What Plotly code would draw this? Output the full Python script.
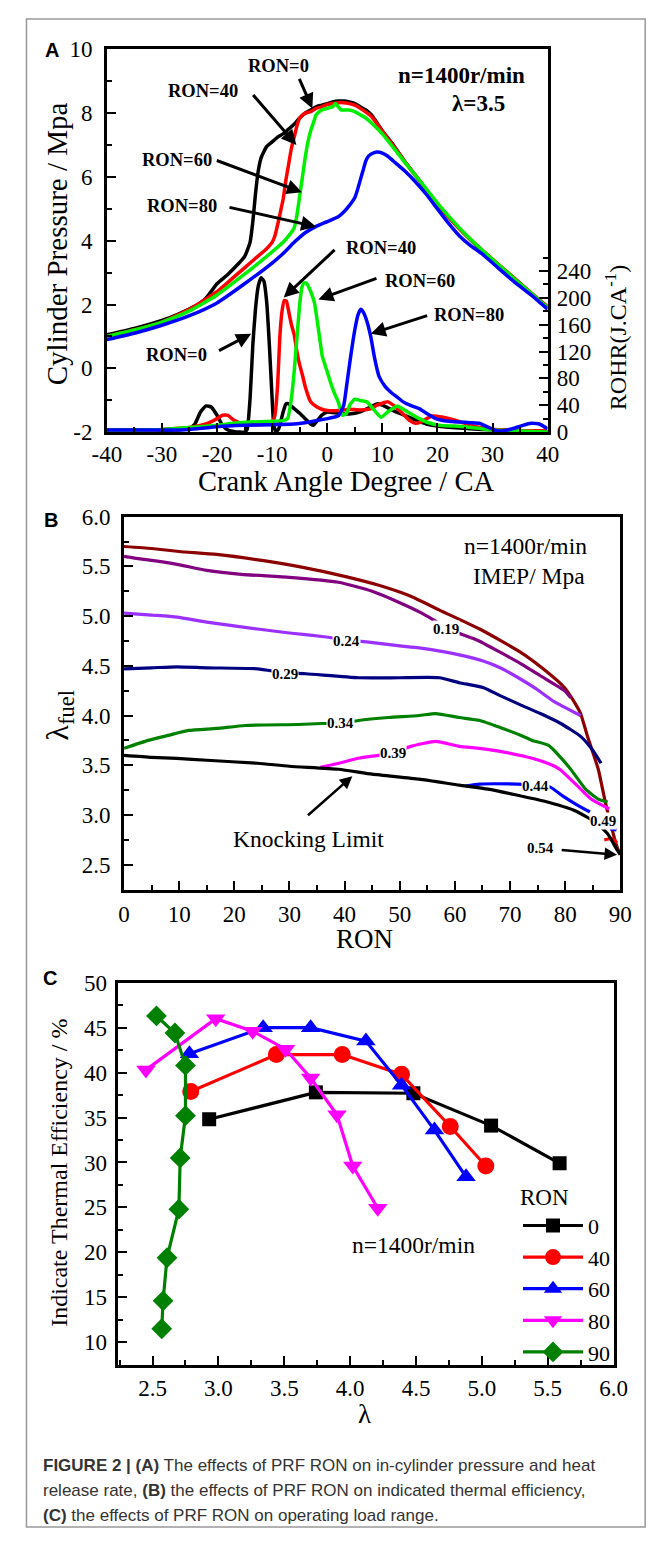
import plotly.graph_objects as go

W, H = 663, 1541


def px(x):
    return x / W


def py(y):
    return 1 - y / H


SERIF = "Liberation Serif, Times New Roman, serif"
SANS = "Liberation Sans, Arial, sans-serif"

# ---------------- Panel A data: cylinder pressure (MPa) vs crank angle ----------------
p_ron0 = [(-40, 1.05), (-35, 1.25), (-30, 1.5), (-27, 1.7), (-24, 1.95), (-22, 2.2), (-20, 2.65),
          (-18, 2.95), (-16, 3.3), (-15, 3.5), (-14, 3.95), (-13.5, 4.6), (-13, 5.5), (-12.5, 6.2),
          (-12, 6.6), (-11, 6.95), (-10, 7.1), (-9, 7.25), (-8, 7.35), (-7, 7.5), (-6, 7.65),
          (-5, 7.85), (-4, 8.0), (-3, 8.1), (-2, 8.2), (-1, 8.25), (0, 8.3), (1, 8.35), (2, 8.38),
          (3, 8.38), (4, 8.35), (5, 8.3), (6, 8.2), (7, 8.1), (8, 7.95), (10, 7.45), (12, 7.0),
          (14, 6.5), (16, 6.05), (18, 5.6), (20, 5.15), (22, 4.75), (25, 4.2), (28, 3.7),
          (31, 3.25), (34, 2.8), (37, 2.35), (40, 1.92)]
p_ron40 = [(-40, 1.0), (-35, 1.2), (-30, 1.45), (-25, 1.85), (-20, 2.4), (-17, 2.85), (-15, 3.15),
           (-13, 3.45), (-11, 3.75), (-10, 3.95), (-9.5, 4.15), (-9, 4.5), (-8.5, 4.9), (-8, 5.3),
           (-7.5, 5.9), (-7, 6.4), (-6.5, 6.9), (-6, 7.25), (-5.5, 7.6), (-5, 7.85), (-4, 8.0),
           (-3, 8.05), (-2, 8.15), (-1, 8.2), (0, 8.27), (1, 8.3), (2, 8.33), (3, 8.33), (4, 8.3),
           (5, 8.25), (6, 8.15), (8, 7.9), (10, 7.43), (12, 6.98), (14, 6.5), (16, 6.05), (18, 5.6),
           (20, 5.15), (22, 4.75), (25, 4.2), (28, 3.72), (31, 3.27), (34, 2.82), (37, 2.37), (40, 1.93)]
p_ron60 = [(-40, 1.0), (-35, 1.2), (-30, 1.45), (-25, 1.8), (-20, 2.3), (-15, 2.95), (-10, 3.65),
           (-8, 3.95), (-7, 4.15), (-6, 4.4), (-5.5, 4.8), (-5, 5.4), (-4.5, 6.0), (-4, 6.6),
           (-3.5, 7.1), (-3, 7.45), (-2.5, 7.7), (-2, 7.95), (-1, 8.1), (0, 8.15), (1, 8.2),
           (1.5, 8.3), (2, 8.2), (2.5, 8.1), (3, 8.1), (4, 8.1), (5, 8.05), (6, 7.95), (7, 7.85),
           (8, 7.7), (10, 7.35), (12, 6.92), (14, 6.48), (16, 6.05), (18, 5.62), (20, 5.18),
           (22, 4.78), (25, 4.22), (28, 3.72), (31, 3.26), (34, 2.8), (37, 2.36), (40, 1.9)]
p_ron80 = [(-40, 0.9), (-35, 1.1), (-30, 1.35), (-25, 1.65), (-20, 2.05), (-15, 2.65), (-10, 3.3),
           (-8, 3.6), (-6, 3.95), (-4, 4.25), (-2, 4.45), (0, 4.6), (2, 4.75), (3, 4.9), (4, 5.1),
           (5, 5.35), (5.5, 5.6), (6, 5.9), (6.5, 6.2), (7, 6.5), (7.5, 6.65), (8, 6.72), (9, 6.78),
           (10, 6.75), (11, 6.65), (12, 6.5), (14, 6.2), (16, 5.85), (18, 5.45), (20, 5.0),
           (22, 4.55), (24, 4.15), (26, 3.85), (28, 3.6), (31, 3.15), (34, 2.7), (37, 2.3), (40, 1.85)]

# ---------------- Panel A data: rate of heat release (J/CA) ----------------
r_ron0 = [(-40, 3), (-34, 3), (-28, 3), (-25, 5), (-24, 12), (-23, 30), (-22, 39), (-21, 37),
          (-20, 25), (-19, 10), (-18, 3), (-17, 1), (-16, 0), (-15, 0), (-14.5, 5), (-14, 50),
          (-13.5, 130), (-13, 185), (-12.5, 218), (-12, 230), (-11.5, 225), (-11, 195), (-10.5, 130),
          (-10, 50), (-9.7, 10), (-9.3, 0), (-8.8, 5), (-8, 30), (-7.5, 42), (-7, 42), (-6, 35),
          (-5, 28), (-4, 20), (-3, 12), (-2.5, 10), (-2, 15), (-1, 25), (0, 30), (2, 28), (4, 27),
          (6, 30), (8, 38), (9, 42), (10, 40), (12, 32), (14, 25), (16, 18), (18, 12), (20, 9),
          (24, 6), (28, 4), (32, 3), (36, 2), (40, 0)]
r_ron40 = [(-40, 3), (-32, 3), (-28, 5), (-25, 7), (-22, 12), (-20, 20), (-19, 25), (-18, 25),
           (-17, 18), (-15, 11), (-13, 11), (-11, 12), (-10, 14), (-9.5, 25), (-9, 70), (-8.6, 142),
           (-8.2, 180), (-7.8, 196), (-7.4, 195), (-7, 180), (-6.5, 160), (-6, 145), (-5.5, 120),
           (-5, 100), (-4.5, 85), (-4, 68), (-3, 45), (-2, 38), (-1, 34), (0, 32), (2, 32), (4, 34),
           (6, 33), (8, 35), (9, 40), (11, 45), (12, 40), (14, 25), (15, 17), (16, 13), (17, 15),
           (19, 24), (21, 22), (23, 18), (25, 13), (27, 8), (29, 5), (32, 3), (36, 2), (40, 2)]
r_ron60 = [(-40, 3), (-34, 3), (-30, 4), (-25, 7), (-20, 10), (-17, 13), (-14, 15), (-10, 16),
           (-8, 17), (-7.2, 20), (-6.5, 50), (-6, 90), (-5.5, 140), (-5, 190), (-4.6, 215),
           (-4.2, 222), (-3.8, 222), (-3.3, 215), (-2.8, 205), (-2.3, 192), (-1.8, 165), (-1.2, 130),
           (-0.9, 113), (0, 90), (0.6, 74), (1.3, 58), (2, 45), (2.8, 25), (3.5, 28), (4.2, 42),
           (5, 49), (6, 47), (7.2, 45), (8.5, 33), (9.8, 22), (11, 30), (12.7, 39), (14, 33),
           (16.7, 20), (18, 15), (20.4, 10), (23, 9), (25, 8), (28, 5), (30, 3), (34, 2), (37, 1), (40, 0)]
r_ron80 = [(-40, 3), (-30, 3), (-25, 4), (-20, 8), (-15, 10), (-10, 11), (-6, 12), (-4, 14),
           (-2, 17), (0, 20), (2, 24), (3, 40), (3.6, 74), (4.3, 115), (5, 152), (5.6, 175),
           (6.1, 183), (6.6, 178), (7.2, 165), (7.9, 142), (8.6, 110), (9.4, 83), (10.5, 68),
           (11.6, 59), (12.7, 52), (13.8, 45), (15, 40), (16.7, 35), (18, 28), (19.7, 20), (22, 16),
           (24, 15), (26, 14), (27.7, 13), (29, 8), (30.7, 2), (32, 2), (33.6, 5), (35.5, 10),
           (37, 13), (38.5, 12), (40, 5)]

a_colors = {"0": "#000000", "40": "#FF0000", "60": "#00EE00", "80": "#0000FF"}
a_xticks = [-40, -30, -20, -10, 0, 10, 20, 30, 40]
a_yticks = [-2, 0, 2, 4, 6, 8, 10]
a_rticks = [0, 40, 80, 120, 160, 200, 240]

# ---------------- Panel B data: lambda_fuel vs RON, IMEP contours ----------------
b_edge = [(0, 5.70), (5, 5.68), (10, 5.65), (16.8, 5.62), (25, 5.56), (31.5, 5.50), (40, 5.40),
          (46.2, 5.31), (52, 5.20), (57.2, 5.06), (64.5, 4.87), (71.8, 4.64), (76, 4.47),
          (79.9, 4.28), (81.5, 4.15), (82.8, 4.02), (84, 3.8), (86, 3.46), (87.2, 3.15),
          (88.2, 2.92), (89.4, 2.68), (90, 2.6)]
b_019 = [(0, 5.60), (2.2, 5.58), (5, 5.56), (9.6, 5.52), (15, 5.46), (21.3, 5.42), (30, 5.39),
         (38.9, 5.34), (45, 5.25), (49.8, 5.14), (54, 5.03), (56.8, 4.94), (60.1, 4.84), (64, 4.76),
         (68.1, 4.64), (72, 4.52), (75.5, 4.40), (79.9, 4.25), (81, 4.18)]
b_024 = [(0, 5.03), (5, 5.01), (9.6, 4.99), (15, 4.94), (24.2, 4.87), (30, 4.83), (36.7, 4.79),
         (40.4, 4.76), (44, 4.74), (50, 4.70), (53.5, 4.68), (60.8, 4.61), (65, 4.55), (68.2, 4.48),
         (71.5, 4.38), (74.7, 4.27), (78, 4.14), (82.8, 4.0)]
b_029 = [(0, 4.47), (5, 4.48), (9.6, 4.49), (15, 4.48), (24.2, 4.47), (29.2, 4.43), (33, 4.42),
         (42.5, 4.38), (50, 4.38), (57.2, 4.38), (60.8, 4.33), (65.2, 4.28), (68.2, 4.20),
         (71.8, 4.11), (75.5, 4.02), (79.2, 3.92), (82.8, 3.79), (85, 3.65), (86.5, 3.52)]
b_034 = [(0, 3.67), (4.4, 3.75), (8, 3.80), (11.7, 3.85), (16.8, 3.87), (22, 3.90), (31.5, 3.91),
         (35.9, 3.92), (39.2, 3.92), (42.5, 3.95), (48, 3.98), (53.5, 4.00), (56.5, 4.02),
         (60.8, 3.98), (64.5, 3.95), (68.2, 3.88), (72, 3.80), (74, 3.75), (77, 3.70), (78.5, 3.62),
         (81, 3.46), (83.7, 3.26), (86, 3.16), (87.7, 3.13)]
b_039 = [(35.6, 3.48), (39, 3.52), (42.5, 3.57), (46.2, 3.60), (48.7, 3.62), (52, 3.69),
         (56.5, 3.74), (60.8, 3.69), (64.5, 3.67), (68.2, 3.64), (74, 3.57), (77.7, 3.50),
         (79, 3.46), (81.9, 3.31), (84.7, 3.16), (88, 3.06)]
b_044 = [(61.9, 3.29), (64.5, 3.31), (71.4, 3.31), (74.7, 3.30), (77.3, 3.28), (79.6, 3.19),
         (81.9, 3.11), (84.5, 3.03)]
b_049 = [(88.2, 2.86), (89.3, 2.85)]
b_054 = [(87.1, 2.75), (88.5, 2.76), (89.4, 2.72)]
b_knock = [(0, 3.60), (5, 3.58), (9.6, 3.57), (15, 3.55), (24.2, 3.52), (30, 3.49), (38.9, 3.46),
           (45, 3.41), (53.5, 3.36), (60.8, 3.30), (66, 3.26), (70.4, 3.21), (76.1, 3.14),
           (81.9, 3.04), (85.4, 2.93), (87.7, 2.81), (89.4, 2.65), (90, 2.60)]
b_lines = [(b_edge, "#8B0000"), (b_019, "#800080"), (b_024, "#9B30FF"), (b_029, "#000080"),
           (b_034, "#008000"), (b_039, "#FF00FF"), (b_044, "#0000FF"), (b_049, "#0000FF"),
           (b_054, "#FF0000"), (b_knock, "#000000")]
b_labels = [("0.19", 58.4, 4.87), ("0.24", 40.4, 4.75), ("0.29", 29.2, 4.42), ("0.34", 39.2, 3.92),
            ("0.39", 48.7, 3.62), ("0.44", 74.7, 3.29), ("0.49", 86.8, 2.94)]
b_xticks = [0, 10, 20, 30, 40, 50, 60, 70, 80, 90]
b_yticks = [2.5, 3.0, 3.5, 4.0, 4.5, 5.0, 5.5, 6.0]

# ---------------- Panel C data: indicated thermal efficiency vs lambda ----------------
c_ron = ["0", "40", "60", "80", "90"]
c_lambda = {
    "0": [2.93, 3.74, 4.48, 5.07, 5.59],
    "40": [2.79, 3.44, 3.94, 4.39, 4.76, 5.03],
    "60": [2.78, 3.34, 3.70, 4.12, 4.39, 4.64, 4.88],
    "80": [2.45, 2.98, 3.26, 3.51, 3.70, 3.90, 4.02, 4.21],
    "90": [2.53, 2.67, 2.75, 2.75, 2.71, 2.70, 2.61, 2.58, 2.57],
}
c_eff = {
    "0": [34.8, 37.8, 37.7, 34.1, 29.9],
    "40": [37.9, 42.0, 42.0, 39.8, 34.0, 29.6],
    "60": [42.1, 45.0, 45.0, 43.5, 38.6, 33.6, 28.4],
    "80": [40.3, 46.0, 44.6, 42.6, 39.4, 35.3, 29.6, 24.9],
    "90": [46.3, 44.4, 40.8, 35.2, 30.5, 24.8, 19.4, 14.6, 11.5],
}
c_colors = {"0": "#000000", "40": "#FF0000", "60": "#0000FF", "80": "#FF00FF", "90": "#008000"}
c_symbols = {"0": "square", "40": "circle", "60": "triangle-up", "80": "triangle-down", "90": "diamond"}
c_sizes = {"0": 14, "40": 17, "60": 17, "80": 17, "90": 16}
c_xticks = [2.5, 3.0, 3.5, 4.0, 4.5, 5.0, 5.5, 6.0]
c_yticks = [10, 15, 20, 25, 30, 35, 40, 45, 50]

fig = go.Figure()


def xs(pts):
    return [p[0] for p in pts]


def ys(pts):
    return [p[1] for p in pts]


for key, pts in [("0", p_ron0), ("40", p_ron40), ("60", p_ron60), ("80", p_ron80)]:
    fig.add_trace(go.Scatter(x=xs(pts), y=ys(pts), mode="lines", xaxis="x", yaxis="y",
                             line=dict(color=a_colors[key], width=3.5, shape="spline", smoothing=0.5),
                             showlegend=False, hoverinfo="skip"))
for key, pts in [("0", r_ron0), ("40", r_ron40), ("60", r_ron60), ("80", r_ron80)]:
    fig.add_trace(go.Scatter(x=xs(pts), y=ys(pts), mode="lines", xaxis="x", yaxis="y2",
                             line=dict(color=a_colors[key], width=3.5, shape="spline", smoothing=0.4),
                             showlegend=False, hoverinfo="skip"))

for pts, col in b_lines:
    fig.add_trace(go.Scatter(x=xs(pts), y=ys(pts), mode="lines", xaxis="x2", yaxis="y3",
                             line=dict(color=col, width=3.2, shape="spline", smoothing=0.5),
                             showlegend=False, hoverinfo="skip"))

for key in c_ron:
    fig.add_trace(go.Scatter(x=c_lambda[key], y=c_eff[key], mode="lines+markers", name=key,
                             xaxis="x3", yaxis="y4",
                             line=dict(color=c_colors[key], width=3.2),
                             marker=dict(symbol=c_symbols[key], size=c_sizes[key], color=c_colors[key]),
                             showlegend=True, hoverinfo="skip"))

ax_common = dict(showline=True, linecolor="black", linewidth=2.6, mirror=True, ticks="inside",
                 tickcolor="black", tickwidth=2.4, ticklen=9, showgrid=False, zeroline=False,
                 tickfont=dict(family=SERIF, size=23, color="black"),
                 minor=dict(ticks="inside", ticklen=5, tickwidth=2.4, tickcolor="black", showgrid=False))


def minor(**kw):
    d = dict(ax_common["minor"])
    d.update(kw)
    return d


fig.update_layout(
    width=W, height=H, margin=dict(l=0, r=0, t=0, b=0),
    paper_bgcolor="white", plot_bgcolor="white",
    xaxis=dict(ax_common, domain=[px(96), px(557)], range=[-40, 40], tickvals=a_xticks,
               ticktext=[str(v) for v in a_xticks], ticklabelstandoff=0,
               anchor="y", minor=minor(dtick=5)),
    yaxis=dict(ax_common, domain=[py(427), py(38)], range=[-2, 10], tickvals=a_yticks,
               ticktext=[str(v) for v in a_yticks], ticklabelstandoff=7,
               anchor="x", minor=minor(dtick=1)),
    yaxis2=dict(ax_common, overlaying="y", side="right", anchor="x", range=[0, 570],
                tickvals=a_rticks, ticklabelstandoff=8, showline=False, mirror=False,
                minor=minor(tickvals=list(range(20, 261, 40)))),
    xaxis2=dict(ax_common, domain=[px(114), px(633)], range=[0, 90], tickvals=b_xticks,
                ticklabelstandoff=2, anchor="y3", minor=minor(dtick=5)),
    yaxis3=dict(ax_common, domain=[py(892), py(513)], range=[2.25, 6.0],
                tickvals=b_yticks, tickformat=".1f", ticklabelstandoff=6,
                anchor="x2", minor=minor(dtick=0.25)),
    xaxis3=dict(ax_common, domain=[px(108), px(626)], range=[2.24, 6.0],
                tickvals=c_xticks, tickformat=".1f", ticklabelstandoff=1,
                anchor="y4", minor=minor(dtick=0.25)),
    yaxis4=dict(ax_common, domain=[py(1375), py(986.7)], range=[7.5, 50],
                tickvals=c_yticks, anchor="x3", ticklabelstandoff=4,
                minor=minor(dtick=2.5)),
    legend=dict(x=px(526), y=py(1182), xanchor="left", yanchor="top", bgcolor="rgba(0,0,0,0)",
                font=dict(family=SERIF, size=22, color="black"),
                title=dict(text="RON", font=dict(family=SERIF, size=23, color="black")),
                tracegroupgap=0, itemwidth=60),
)

ann = []


def paper_text(text, x, y, size, family=SERIF, bold=False, angle=0, color="black", xanchor="center"):
    t = "<b>%s</b>" % text if bold else text
    ann.append(dict(text=t, x=px(x), y=py(y), xref="paper", yref="paper", showarrow=False,
                    textangle=angle, xanchor=xanchor, yanchor="middle",
                    font=dict(family=family, size=size, color=color)))


def data_text(text, x, y, xr, yr, size, bold=True, bg=None):
    t = "<b>%s</b>" % text if bold else text
    d = dict(text=t, x=x, y=y, xref=xr, yref=yr, showarrow=False,
             font=dict(family=SERIF, size=size, color="black"))
    if bg:
        d.update(bgcolor=bg, borderpad=0)
    ann.append(d)


def arrow(x, y, ax, ay, xr, yr, width=3):
    ann.append(dict(text=" ", x=x, y=y, ax=ax, ay=ay, xref=xr, yref=yr, axref=xr, ayref=yr,
                    font=dict(size=2), showarrow=True, arrowhead=2, arrowsize=1,
                    arrowwidth=width, arrowcolor="black"))


# Panel A texts
paper_text("A", 39, 39, 20, family=SANS, bold=True)
paper_text("Cylinder Pressure / Mpa", 44, 236, 29, angle=-90)
paper_text("Crank Angle Degree / CA", 346, 477, 28.5)
paper_text("ROHR(J.CA<sup>-1</sup>)", 628, 331, 24, angle=-90)
data_text("n=1400r/min", 24.4, 9.17, "x", "y", 23)
data_text("λ=3.5", 27.5, 8.3, "x", "y", 23)
for t, x, y in [("RON=0", -8.9, 9.48), ("RON=40", -22.5, 8.7), ("RON=60", -27.2, 6.54),
                ("RON=80", -26.3, 5.09), ("RON=40", 9.7, 3.77), ("RON=60", 16.8, 2.75),
                ("RON=80", 25.8, 1.67), ("RON=0", -27.3, 0.43)]:
    data_text(t, x, y, "x", "y", 18.5)
for x, y, ax_, ay_ in [(-2.7, 8.15, -5.3, 9.17), (-5.6, 7.0, -13.8, 8.64), (-4.6, 5.52, -20.4, 6.54),
                       (-2.0, 4.44, -18.1, 5.06), (-7.9, 2.22, 1.7, 3.77), (-1.6, 2.16, 9.3, 2.84),
                       (7.9, 1.08, 18.5, 1.67), (-13.8, 1.08, -20.0, 0.52)]:
    arrow(x, y, ax_, ay_, "x", "y")

# Panel B texts
paper_text("B", 38, 516, 20, family=SANS, bold=True)
paper_text("λ<sub>fuel</sub>", 46, 715, 32, angle=-90)
paper_text("RON", 365, 942, 27)
paper_text("n=1400r/min", 534, 543, 23.5)
paper_text("IMEP/ Mpa", 537, 573, 23.5)
for t, x, y in b_labels:
    data_text(t, x, y, "x2", "y3", 15, bg="white")
data_text("Knocking Limit", 33.4, 2.76, "x2", "y3", 23.5, bold=False)
arrow(41.4, 3.39, 33.0, 2.98, "x2", "y3", width=2.5)
data_text("0.54", 75.6, 2.67, "x2", "y3", 15)
arrow(89.4, 2.60, 79.0, 2.65, "x2", "y3", width=2.5)

# Panel C texts
paper_text("C", 37, 982, 20, family=SANS, bold=True)
paper_text("Indicate Thermal Efficiency / %", 46, 1180, 24, angle=-90)
paper_text("λ", 365, 1425, 27)
paper_text("n=1400r/min", 416.5, 1253, 23.5)

# Caption
cap_col = "#333333"
paper_text("<b>FIGURE 2 | (A)</b> The effects of PRF RON on in-cylinder pressure and heat",
           27, 1477, 17, family=SANS, color=cap_col, xanchor="left")
paper_text("release rate, <b>(B)</b> the effects of PRF RON on indicated thermal efficiency,",
           27, 1503, 17, family=SANS, color=cap_col, xanchor="left")
paper_text("<b>(C)</b> the effects of PRF RON on operating load range.",
           27, 1528, 17, family=SANS, color=cap_col, xanchor="left")

fig.update_layout(annotations=ann)
fig.add_shape(type="rect", xref="paper", yref="paper", x0=px(12), x1=px(659), y0=py(1540), y1=py(7),
              line=dict(color="#999999", width=1.5), fillcolor="rgba(0,0,0,0)", layer="below")

fig.write_html("out.html", config={"displayModeBar": False},
               post_script="document.body.style.margin='0px';")
